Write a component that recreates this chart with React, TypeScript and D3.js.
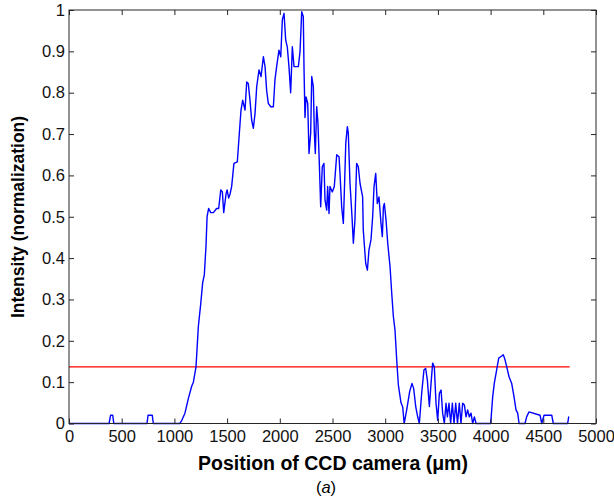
import React, { useEffect, useRef } from "react";
import * as d3 from "d3";

// Profile: position (µm) and normalised intensity
const positionUm = [
  0, 380, 395, 415, 425, 740, 750, 790, 800, 1050, 1065, 1100, 1132, 1164, 1180, 1205, 1227, 1250,
  1268, 1284, 1300, 1310, 1325, 1345, 1370, 1400, 1420, 1440, 1455, 1468, 1490, 1500, 1515, 1528,
  1543, 1565, 1597, 1616, 1632, 1648, 1670, 1686, 1701, 1717, 1733, 1749, 1765, 1781, 1803, 1822,
  1844, 1860, 1875, 1891, 1914, 1939, 1954, 1970, 1992, 2009, 2024, 2040, 2056, 2071, 2087, 2103,
  2119, 2135, 2176, 2192, 2208, 2223, 2230, 2239, 2249, 2265, 2277, 2293, 2303, 2318, 2328, 2337,
  2350, 2362, 2375, 2388, 2403, 2419, 2429, 2445, 2454, 2467, 2476, 2498, 2517, 2540, 2562, 2571,
  2587, 2603, 2612, 2626, 2641, 2650, 2666, 2685, 2698, 2713, 2729, 2745, 2761, 2786, 2792, 2815,
  2831, 2846, 2865, 2881, 2894, 2910, 2925, 2941, 2960, 2973, 2983, 2992, 3008, 3024, 3046, 3062,
  3077, 3093, 3109, 3125, 3150, 3166, 3180, 3204, 3232, 3254, 3270, 3290, 3305, 3324, 3346, 3368,
  3384, 3400, 3419, 3435, 3450, 3466, 3482, 3498, 3514, 3530, 3545, 3561, 3577, 3590, 3605, 3621,
  3637, 3653, 3669, 3686, 3703, 3719, 3735, 3751, 3767, 3782, 3798, 3814, 3830, 3846, 3862, 4001,
  4020, 4035, 4058, 4077, 4099, 4121, 4137, 4153, 4175, 4200, 4222, 4241, 4257, 4270, 4326, 4342,
  4364, 4469, 4485, 4507, 4580, 4595, 4731, 4741, 4745,
];
const intensity = [
  0, 0, 0.02, 0.02, 0, 0, 0.02, 0.02, 0, 0, 0.005, 0.025, 0.06, 0.09, 0.1, 0.137, 0.234, 0.29,
  0.34, 0.36, 0.43, 0.5, 0.52, 0.51, 0.51, 0.52, 0.52, 0.565, 0.56, 0.51, 0.555, 0.565, 0.545, 0.555,
  0.573, 0.629, 0.633, 0.702, 0.758, 0.782, 0.758, 0.826, 0.822, 0.782, 0.734, 0.714, 0.75, 0.815, 0.855, 0.839,
  0.887, 0.863, 0.806, 0.774, 0.766, 0.766, 0.831, 0.863, 0.903, 0.887, 0.976, 0.992, 0.927, 0.911, 0.863, 0.8,
  0.911, 0.863, 0.863, 0.9, 0.996, 0.984, 0.855, 0.74, 0.79, 0.774, 0.653, 0.702, 0.839, 0.815, 0.702, 0.653,
  0.766, 0.726, 0.629, 0.524, 0.621, 0.629, 0.54, 0.516, 0.573, 0.508, 0.573, 0.56, 0.573, 0.65, 0.645, 0.605,
  0.524, 0.484, 0.557, 0.678, 0.718, 0.702, 0.581, 0.5, 0.436, 0.492, 0.629, 0.621, 0.581, 0.548, 0.468, 0.387,
  0.371, 0.42, 0.444, 0.5, 0.573, 0.605, 0.532, 0.548, 0.484, 0.452, 0.524, 0.532, 0.492, 0.436, 0.379, 0.315,
  0.26, 0.226, 0.154, 0.093, 0.05, 0.04, 0, 0.033, 0.077, 0.097, 0.085, 0.04, 0.02, 0, 0.073, 0.13,
  0.133, 0.105, 0.041, 0.097, 0.146, 0.137, 0.049, 0.008, 0.073, 0.081, 0.025, 0, 0.049, 0.016, 0.049, 0,
  0.049, 0, 0.049, 0, 0.049, 0, 0.049, 0.045, 0.016, 0.033, 0.016, 0.025, 0, 0.016, 0, 0,
  0.065, 0.097, 0.13, 0.158, 0.162, 0.166, 0.154, 0.137, 0.113, 0.097, 0.065, 0.033, 0.025, 0, 0, 0.016,
  0.028, 0.02, 0, 0.02, 0.02, 0, 0, 0.016, 0.016,
];

const thresholdLevel = 0.137;
const thresholdRange = [0, 4750];

const xTicks = [0, 500, 1000, 1500, 2000, 2500, 3000, 3500, 4000, 4500, 5000];
const yTicks = [0, 0.1, 0.2, 0.3, 0.4, 0.5, 0.6, 0.7, 0.8, 0.9, 1];
const yTickLabels = ["0", "0.1", "0.2", "0.3", "0.4", "0.5", "0.6", "0.7", "0.8", "0.9", "1"];

const W = 614;
const H = 504;
const margin = { left: 69, right: 18, top: 10, bottom: 80.5 };

const App = () => {
  const svgRef = useRef(null);

  useEffect(() => {
    document.body.style.margin = "0";
    const svg = d3.select(svgRef.current);
    svg.selectAll("*").remove();

    const x = d3.scaleLinear().domain([0, 5000]).range([margin.left, W - margin.right]);
    const y = d3.scaleLinear().domain([0, 1]).range([H - margin.bottom, margin.top]);
    const font = "'Liberation Sans', Arial, sans-serif";

    const pts = positionUm.map((p, i) => [p, intensity[i]]);
    const line = d3.line().x((d) => x(d[0])).y((d) => y(d[1]));

    // threshold line
    svg.append("line")
      .attr("x1", x(thresholdRange[0]))
      .attr("x2", x(thresholdRange[1]))
      .attr("y1", y(thresholdLevel))
      .attr("y2", y(thresholdLevel))
      .attr("stroke", "#ff0000")
      .attr("stroke-width", 1.3);

    // intensity profile
    svg.append("path")
      .datum(pts)
      .attr("d", line)
      .attr("fill", "none")
      .attr("stroke", "#0000ff")
      .attr("stroke-width", 1.4)
      .attr("stroke-linejoin", "round");

    // axes box with inward ticks
    const tickLen = 5;
    const axisColor = "#262626";
    svg.append("g")
      .attr("transform", `translate(0,${y(0)})`)
      .call(d3.axisBottom(x).tickValues(xTicks).tickSizeInner(-tickLen).tickSizeOuter(0).tickPadding(7).tickFormat(d3.format("d")))
      .call((g) => g.select(".domain").remove());
    svg.append("g")
      .attr("transform", `translate(0,${y(1)})`)
      .call(d3.axisTop(x).tickValues(xTicks).tickSizeInner(-tickLen).tickSizeOuter(0).tickFormat(() => ""))
      .call((g) => g.select(".domain").remove());
    svg.append("g")
      .attr("transform", `translate(${x(0)},0)`)
      .call(d3.axisLeft(y).tickValues(yTicks).tickSizeInner(-tickLen).tickSizeOuter(0).tickPadding(4).tickFormat((d, i) => yTickLabels[i]))
      .call((g) => g.select(".domain").remove());
    svg.append("g")
      .attr("transform", `translate(${x(5000)},0)`)
      .call(d3.axisRight(y).tickValues(yTicks).tickSizeInner(-tickLen).tickSizeOuter(0).tickFormat(() => ""))
      .call((g) => g.select(".domain").remove());

    svg.selectAll(".tick line").attr("stroke", axisColor);
    svg.selectAll(".tick text")
      .attr("font-family", font)
      .attr("font-size", 16.5)
      .attr("fill", "#111");

    svg.append("rect")
      .attr("x", x(0))
      .attr("y", y(1))
      .attr("width", x(5000) - x(0))
      .attr("height", y(0) - y(1))
      .attr("fill", "none")
      .attr("stroke", axisColor)
      .attr("stroke-width", 1);

    svg.append("text")
      .attr("x", 333)
      .attr("y", 470)
      .attr("text-anchor", "middle")
      .attr("font-family", font)
      .attr("font-weight", "bold")
      .attr("font-size", 19.5)
      .text("Position of CCD camera (μm)");

    svg.append("text")
      .attr("transform", `translate(24,217) rotate(-90)`)
      .attr("text-anchor", "middle")
      .attr("font-family", font)
      .attr("font-weight", "bold")
      .attr("font-size", 17.5)
      .text("Intensity (normalization)");

    const cap = svg.append("text")
      .attr("x", 326)
      .attr("y", 493)
      .attr("text-anchor", "middle")
      .attr("font-family", font)
      .attr("font-size", 16.5);
    cap.append("tspan").text("(");
    cap.append("tspan").attr("font-style", "italic").text("a");
    cap.append("tspan").text(")");
  }, []);

  return (
    <div>
      <svg ref={svgRef} width={W} height={H} style={{ display: "block", background: "#fff" }}></svg>
    </div>
  );
};

export default App;
